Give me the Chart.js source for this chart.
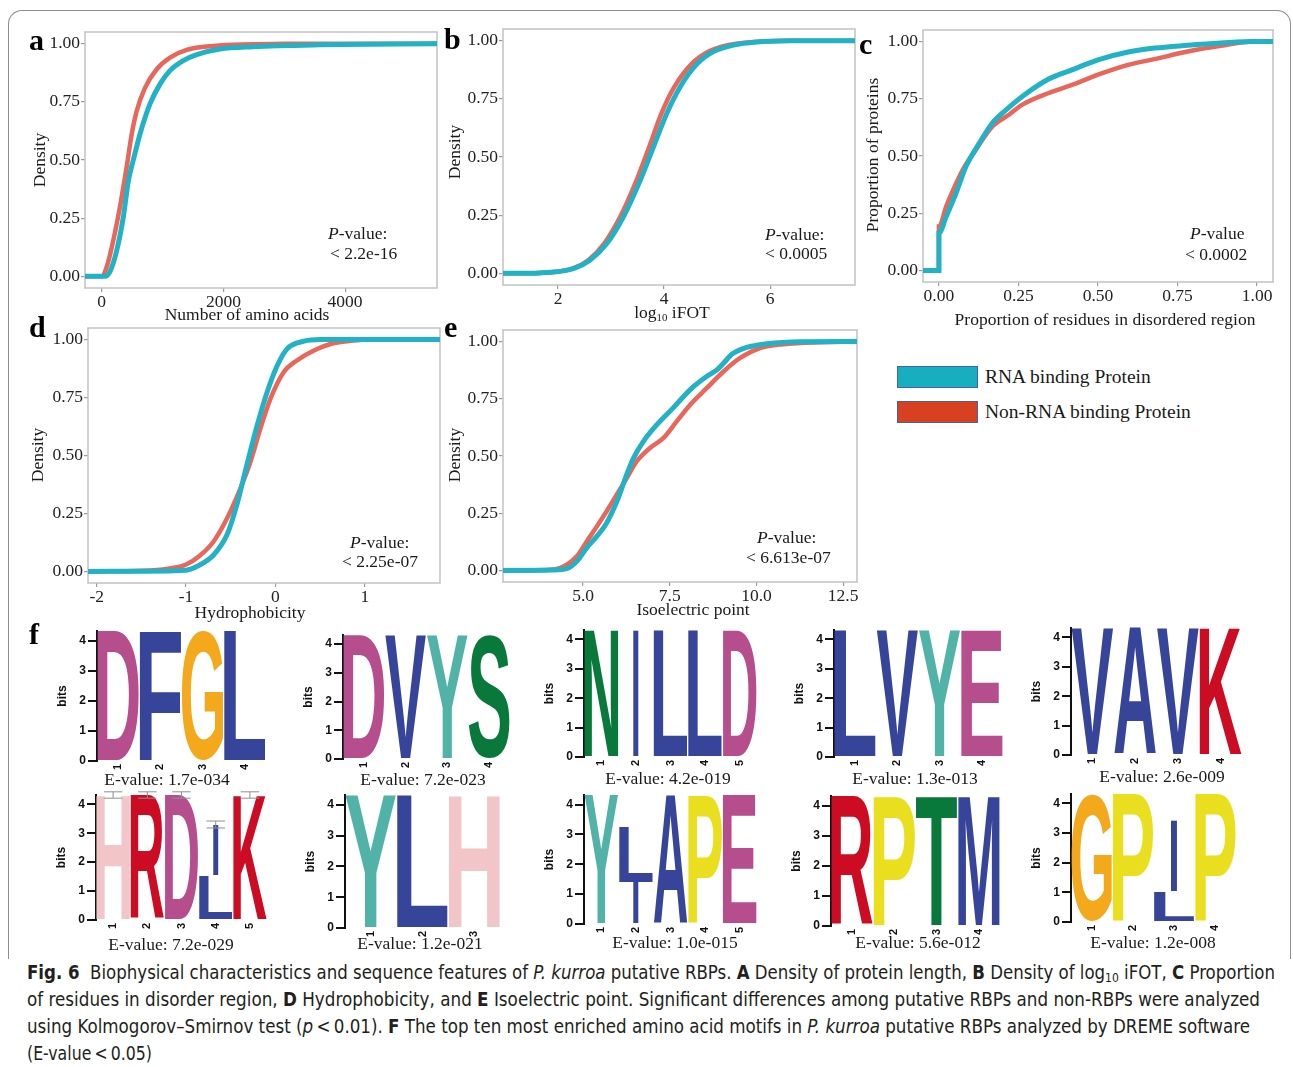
<!DOCTYPE html>
<html>
<head>
<meta charset="utf-8">
<title>Fig. 6</title>
<script src="https://cdn.jsdelivr.net/npm/chart.js@4.4.1/dist/chart.umd.min.js"></script>
<style>
  html, body { margin:0; padding:0; background:#fff; }
  body { width:1293px; height:1067px; position:relative; overflow:hidden; }
  canvas { position:absolute; }
  .t { position:absolute; white-space:nowrap; font-family:"Liberation Serif","Times New Roman",serif; color:#1a1a1a; line-height:1.1; }
  #frame { position:absolute; left:8px; top:10px; width:1281px; height:948px; border:1px solid #8e8e8e; border-bottom:none; border-radius:14px 14px 0 0; }
  .cap { position:absolute; left:27px; white-space:nowrap; font-family:"Liberation Sans Narrow","DejaVu Sans Condensed","Liberation Sans",sans-serif; font-size:20px; color:#231f20; transform-origin:0 50%; line-height:1.1; }
  .cap sub { font-size:0.65em; vertical-align:-0.2em; line-height:0; }
  .legbox { position:absolute; width:79px; height:20px; border:1px solid #3e64b0; }
</style>
</head>
<body>
<div id="frame"></div>
<script>
// ===================== DATA =====================
// Panel a: Number of amino acids (ECDF)
const aTicks = [0, 2000, 4000];
const aRbpX = [-274, 54, 136, 246, 356, 438, 520, 630, 794, 958, 1122, 1341, 1561, 1944, 2487, 3580, 5510];
const aRbpY = [0, 0, 0.02, 0.11, 0.255, 0.41, 0.50, 0.612, 0.741, 0.826, 0.884, 0.927, 0.953, 0.977, 0.987, 0.995, 1];
const aNonX = [-274, 0, 82, 191, 301, 411, 493, 575, 712, 904, 1122, 1397, 1835, 2487, 3000, 5510];
const aNonY = [0, 0, 0.04, 0.155, 0.30, 0.47, 0.61, 0.71, 0.81, 0.89, 0.94, 0.973, 0.99, 0.997, 1, 1];

// Panel b: log10 iFOT
const bTicks = [2, 4, 6];
const bRbpX = [0.96, 1.66, 2.29, 2.60, 2.92, 3.23, 3.55, 3.80, 4.05, 4.30, 4.62, 4.93, 5.31, 5.75, 6.38, 7.60];
const bRbpY = [0, 0.002, 0.02, 0.056, 0.128, 0.242, 0.40, 0.544, 0.687, 0.80, 0.90, 0.953, 0.981, 0.994, 0.999, 1];
const bNonX = [0.96, 1.66, 2.27, 2.57, 2.87, 3.17, 3.48, 3.72, 3.95, 4.19, 4.52, 4.84, 5.22, 5.70, 6.30, 7.60];
const bNonY = [0, 0.002, 0.02, 0.056, 0.128, 0.242, 0.40, 0.544, 0.687, 0.80, 0.90, 0.953, 0.981, 0.994, 0.999, 1];

// Panel c: proportion of residues in disordered region
const cTicks = [0, 0.25, 0.5, 0.75, 1];
const cRbpX = [-0.05, 0, 0, 0.023, 0.054, 0.085, 0.127, 0.168, 0.21, 0.262, 0.345, 0.418, 0.50, 0.595, 0.678, 0.782, 0.886, 0.99, 1.05];
const cRbpY = [0, 0, 0.163, 0.236, 0.338, 0.454, 0.556, 0.644, 0.70, 0.76, 0.836, 0.876, 0.92, 0.954, 0.971, 0.983, 0.993, 1, 1];
const cNonX = [-0.05, 0, 0, 0.023, 0.054, 0.075, 0.116, 0.168, 0.22, 0.262, 0.345, 0.418, 0.50, 0.595, 0.678, 0.782, 0.886, 0.99, 1.05];
const cNonY = [0, 0, 0.192, 0.28, 0.38, 0.44, 0.527, 0.629, 0.68, 0.724, 0.775, 0.81, 0.855, 0.898, 0.923, 0.956, 0.981, 1, 1];

// Panel d: Hydrophobicity
const dTicks = [-2, -1, 0, 1];
const dRbpX = [-2.1, -1.5, -1.0, -0.876, -0.69, -0.54, -0.43, -0.32, -0.205, -0.093, 0.02, 0.13, 0.32, 0.5, 1.84];
const dRbpY = [0, 0.001, 0.005, 0.022, 0.072, 0.16, 0.29, 0.46, 0.63, 0.774, 0.888, 0.96, 0.993, 1, 1];
const dNonX = [-2.1, -1.5, -1.2, -1.0, -0.84, -0.69, -0.54, -0.39, -0.28, -0.168, -0.056, 0.093, 0.24, 0.43, 0.615, 0.876, 1.07, 1.84];
const dNonY = [0, 0.003, 0.012, 0.03, 0.07, 0.13, 0.23, 0.36, 0.473, 0.617, 0.745, 0.86, 0.91, 0.953, 0.981, 0.996, 1, 1];

// Panel e: Isoelectric point
const eTicks = [5, 7.5, 10, 12.5];
const eRbpX = [2.69, 4.14, 4.53, 4.82, 5.11, 5.40, 5.68, 5.97, 6.26, 6.45, 6.74, 7.13, 7.6, 8.09, 8.57, 8.86, 9.05, 9.3, 9.72, 10.3, 11.26, 12.9];
const eRbpY = [0, 0.002, 0.008, 0.04, 0.1, 0.15, 0.208, 0.30, 0.42, 0.49, 0.564, 0.637, 0.71, 0.79, 0.848, 0.876, 0.905, 0.945, 0.974, 0.99, 0.999, 1];
const eNonX = [2.69, 4.14, 4.53, 4.82, 5.11, 5.40, 5.68, 5.97, 6.26, 6.55, 6.93, 7.32, 7.70, 8.09, 8.57, 9.05, 9.53, 10.1, 10.78, 11.9, 12.9];
const eNonY = [0, 0.005, 0.026, 0.062, 0.128, 0.193, 0.259, 0.331, 0.404, 0.477, 0.535, 0.579, 0.651, 0.724, 0.797, 0.869, 0.928, 0.971, 0.988, 0.997, 1];

const yTicks = [0, 0.25, 0.5, 0.75, 1];
const seriesNames = ['RNA binding Protein', 'Non-RNA binding Protein'];

// Panel f: DREME motifs (letters stacked bottom -> top, heights in bits)
const m1Letters = [['D'], ['F'], ['G'], ['L']];
const m1Bits = [[4.32], [4.32], [4.32], [4.32]];
const m2Letters = [['D'], ['V'], ['Y'], ['S']];
const m2Bits = [[4.32], [4.32], [4.32], [4.32]];
const m3Letters = [['N'], ['I'], ['L'], ['L'], ['D']];
const m3Bits = [[4.32], [4.32], [4.32], [4.32], [4.32]];
const m4Letters = [['L'], ['V'], ['Y'], ['E']];
const m4Bits = [[4.32], [4.32], [4.32], [4.32]];
const m5Letters = [['V'], ['A'], ['V'], ['K']];
const m5Bits = [[4.32], [4.32], [4.32], [4.32]];
const m6Letters = [['H'], ['R'], ['D'], ['L', 'I'], ['K']];
const m6Bits = [[4.32], [4.32], [4.32], [1.55, 1.75], [4.32]];
const m6Err = [0.11, 0.11, 0.11, 0.12, 0.11];
const m7Letters = [['Y'], ['L'], ['H']];
const m7Bits = [[4.32], [4.32], [4.32]];
const m8Letters = [['Y'], ['I', 'L'], ['A'], ['P'], ['E']];
const m8Bits = [[4.32], [1.42, 1.86], [4.32], [4.32], [4.32]];
const m9Letters = [['R'], ['P'], ['T'], ['M']];
const m9Bits = [[4.32], [4.32], [4.32], [4.32]];
const m10Letters = [['G'], ['P'], ['L', 'I'], ['P']];
const m10Bits = [[4.32], [4.32], [1.04, 2.38], [4.32]];
const eValues = ['E-value: 1.7e-034', 'E-value: 7.2e-023', 'E-value: 4.2e-019', 'E-value: 1.3e-013', 'E-value: 2.6e-009',
                 'E-value: 7.2e-029', 'E-value: 1.2e-021', 'E-value: 1.0e-015', 'E-value: 5.6e-012', 'E-value: 1.2e-008'];

// ===================== STYLE =====================
const TEAL = '#22B2C6', RED = '#E8665A';
const SERIF = '"Liberation Serif","Times New Roman",serif';
const SANS = '"Liberation Sans",Arial,Helvetica,sans-serif';
const FS = 17.5;
const AA_COLORS = {
  A:'#36449A', C:'#36449A', F:'#36449A', I:'#36449A', L:'#36449A', M:'#36449A', V:'#36449A', W:'#36449A',
  N:'#08793A', Q:'#08793A', S:'#08793A', T:'#08793A',
  D:'#B64D8D', E:'#B64D8D', K:'#CC0C22', R:'#CC0C22', H:'#F2C6C8', G:'#F4A81C', P:'#E9DF1E', Y:'#51B2A8'
};

// ===================== HELPERS =====================
function addText(html, x, y, o = {}) {
  const d = document.createElement('div');
  d.className = 't';
  d.innerHTML = html;
  d.style.fontSize = (o.size || FS) + 'px';
  if (o.bold) d.style.fontWeight = 'bold';
  if (o.family) d.style.fontFamily = o.family;
  if (o.color) d.style.color = o.color;
  d.style.left = x + 'px';
  d.style.top = y + 'px';
  const a = o.anchor || 'center';
  const tx = a === 'center' ? '-50%' : (a === 'right' ? '-100%' : '0');
  d.style.transform = o.rotate ? `translate(-50%,-50%) rotate(${o.rotate}deg)` : `translate(${tx},-50%)`;
  document.body.appendChild(d);
  return d;
}
function makeCanvas(left, top, w, h) {
  const c = document.createElement('canvas');
  c.width = Math.round(w); c.height = Math.round(h);
  c.style.left = Math.round(left) + 'px'; c.style.top = Math.round(top) + 'px';
  c.style.width = Math.round(w) + 'px'; c.style.height = Math.round(h) + 'px';
  document.body.appendChild(c);
  return c;
}
const pts = (xs, ys) => xs.map((x, i) => ({ x, y: ys[i] }));

const framePlugin = {
  id: 'frameBox',
  beforeDatasetsDraw(chart) {
    const { ctx, chartArea: a } = chart;
    ctx.save();
    ctx.strokeStyle = '#c2c2c2';
    ctx.lineWidth = 1.5;
    ctx.strokeRect(a.left, a.top, a.right - a.left, a.bottom - a.top);
    ctx.restore();
  }
};

const Y_AX_W = 62, X_AX_H = 26, PAD_T = 12, PAD_R = 8;
function cdfChart(area, xMin, xMax, xTicks, xFmt, rbpX, rbpY, nonX, nonY) {
  const w = Y_AX_W + (area.r - area.l) + PAD_R;
  const h = PAD_T + (area.b - area.t) + X_AX_H;
  const cv = makeCanvas(area.l - Y_AX_W, area.t - PAD_T, w, h);
  const tickFont = { family: SERIF, size: FS };
  return new Chart(cv, {
    type: 'line',
    data: {
      datasets: [
        { label: seriesNames[0], data: pts(rbpX, rbpY), borderColor: TEAL, borderWidth: 5, pointRadius: 0, fill: false, cubicInterpolationMode: 'monotone' },
        { label: seriesNames[1], data: pts(nonX, nonY), borderColor: RED, borderWidth: 4.5, pointRadius: 0, fill: false, cubicInterpolationMode: 'monotone' }
      ]
    },
    options: {
      responsive: false, animation: false, maintainAspectRatio: false,
      layout: { padding: { top: PAD_T, right: PAD_R, left: 0, bottom: 0 } },
      plugins: { legend: { display: false }, tooltip: { enabled: false } },
      scales: {
        x: {
          type: 'linear', min: xMin, max: xMax,
          afterBuildTicks: s => { s.ticks = xTicks.map(v => ({ value: v })); },
          afterFit: s => { s.height = X_AX_H; },
          ticks: { callback: v => xFmt(v), font: tickFont, color: '#222', padding: 0, maxRotation: 0, autoSkip: false },
          grid: { display: true, drawOnChartArea: false, drawTicks: true, tickLength: 4, color: '#9a9a9a', lineWidth: 1.2 },
          border: { display: false }
        },
        y: {
          type: 'linear', min: -0.05, max: 1.05,
          afterBuildTicks: s => { s.ticks = yTicks.map(v => ({ value: v })); },
          afterFit: s => { s.width = Y_AX_W; },
          ticks: { callback: v => Number(v).toFixed(2), font: tickFont, color: '#222', padding: 1 },
          grid: { display: true, drawOnChartArea: false, drawTicks: true, tickLength: 4, color: '#9a9a9a', lineWidth: 1.2 },
          border: { display: false }
        }
      }
    },
    plugins: [framePlugin]
  });
}

// Letter glyph filling a rectangle (sequence logo)
function drawGlyph(ctx, ch, x, y, w, h, color) {
  if (w <= 0 || h <= 0) return;
  ctx.save();
  ctx.font = 'bold 200px ' + SANS;
  ctx.textAlign = 'left';
  ctx.textBaseline = 'alphabetic';
  const m = ctx.measureText(ch);
  const bw = m.actualBoundingBoxLeft + m.actualBoundingBoxRight;
  const bh = m.actualBoundingBoxAscent + m.actualBoundingBoxDescent;
  ctx.translate(x, y);
  ctx.scale(w / bw, h / bh);
  ctx.fillStyle = color;
  ctx.fillText(ch, m.actualBoundingBoxLeft, m.actualBoundingBoxAscent);
  ctx.restore();
}
const logoPlugin = {
  id: 'logoLetters',
  afterDatasetsDraw(chart, args, opts) {
    const ctx = chart.ctx;
    const tops = [];
    chart.data.datasets.forEach((ds, di) => {
      const meta = chart.getDatasetMeta(di);
      meta.data.forEach((bar, i) => {
        const ch = ds.letters[i];
        if (!ch) return;
        const p = bar.getProps(['x', 'y', 'base', 'width'], true);
        let w = p.width - 1, x0 = p.x - p.width / 2 + 0.5;
        if (ch === 'I') { w = p.width * 0.15; x0 = p.x - w / 2; }
        drawGlyph(ctx, ch, x0, p.y, w, p.base - p.y, AA_COLORS[ch] || '#000');
        if (tops[i] === undefined || p.y < tops[i].y) tops[i] = { y: p.y, x: p.x, w: p.width };
      });
    });
    if (opts && opts.err) {
      const ys = chart.scales.y;
      ctx.save();
      ctx.strokeStyle = '#8f8f8f';
      ctx.lineWidth = 1;
      opts.err.forEach((e, i) => {
        const t = tops[i];
        if (!t || !e) return;
        const v = ys.getValueForPixel(t.y);
        const y1 = ys.getPixelForValue(v + e), y2 = ys.getPixelForValue(v - e);
        const hw = t.w * 0.27;
        ctx.beginPath();
        ctx.moveTo(t.x, y1); ctx.lineTo(t.x, y2);
        ctx.moveTo(t.x - hw, y1); ctx.lineTo(t.x + hw, y1);
        ctx.moveTo(t.x - hw, y2); ctx.lineTo(t.x + hw, y2);
        ctx.stroke();
      });
      ctx.restore();
    }
  }
};
const BITS_MAX = 4.32;
function logoChart(pos, letters, bits, err) {
  const LW = 44, PT = 10, XH = 20, PR = 4;
  const plotW = pos.r - pos.ax;
  const plotH = BITS_MAX * pos.bit;
  const cv = makeCanvas(pos.ax - LW, pos.y0 - plotH - PT, LW + plotW + PR, PT + plotH + XH);
  const depth = Math.max(...letters.map(l => l.length));
  const datasets = [];
  for (let k = 0; k < depth; k++) {
    datasets.push({
      data: bits.map(b => (b[k] === undefined ? null : b[k])),
      letters: letters.map(l => l[k] || null),
      backgroundColor: 'rgba(0,0,0,0)', borderWidth: 0, barPercentage: 1, categoryPercentage: 1
    });
  }
  return new Chart(cv, {
    type: 'bar',
    data: { labels: letters.map((_, i) => String(i + 1)), datasets },
    options: {
      responsive: false, animation: false, maintainAspectRatio: false,
      layout: { padding: { top: PT, right: PR, left: 0, bottom: 0 } },
      plugins: { legend: { display: false }, tooltip: { enabled: false }, logoLetters: { err: err || null } },
      scales: {
        x: {
          stacked: true, offset: true,
          afterFit: s => { s.height = XH; },
          grid: { display: false, drawTicks: false },
          border: { display: false },
          ticks: { font: { family: SANS, size: 11, weight: 'bold' }, color: '#111', maxRotation: 90, minRotation: 90, padding: 3, autoSkip: false }
        },
        y: {
          stacked: true, min: 0, max: BITS_MAX,
          afterBuildTicks: s => { s.ticks = [0, 1, 2, 3, 4].map(v => ({ value: v })); },
          afterFit: s => { s.width = LW; },
          grid: { display: true, drawOnChartArea: false, drawTicks: true, tickLength: 9, color: '#111', lineWidth: 2 },
          border: { display: true, color: '#111', width: 2 },
          ticks: { font: { family: SANS, size: 12, weight: 'bold' }, color: '#111', padding: 2 },
          title: { display: true, text: 'bits', font: { family: SANS, size: 12, weight: 'bold' }, color: '#111', padding: { top: 2, bottom: 0 } }
        }
      }
    },
    plugins: [logoPlugin]
  });
}

// ===================== PANELS a–e =====================
const fmt0 = v => String(v);
const fmt1 = v => Number(v).toFixed(1);
const fmt2 = v => Number(v).toFixed(2);

cdfChart({ l: 85, t: 32, r: 437, b: 288 }, -274, 5510, aTicks, fmt0, aRbpX, aRbpY, aNonX, aNonY);
cdfChart({ l: 503, t: 29, r: 855, b: 285 }, 0.962, 7.6, bTicks, fmt0, bRbpX, bRbpY, bNonX, bNonY);
cdfChart({ l: 923, t: 30, r: 1273, b: 282 }, -0.05, 1.05, cTicks, fmt2, cRbpX, cRbpY, cNonX, cNonY);
cdfChart({ l: 88, t: 328, r: 440, b: 583 }, -2.097, 1.84, dTicks, fmt0, dRbpX, dRbpY, dNonX, dNonY);
cdfChart({ l: 503, t: 330, r: 857, b: 582 }, 2.69, 12.9, eTicks, fmt1, eRbpX, eRbpY, eNonX, eNonY);

// Panel letters
[['a', 29, 39], ['b', 444, 38], ['c', 859, 43], ['d', 29, 326], ['e', 444, 326], ['f', 29, 633]].forEach(([s, x, y]) =>
  addText(s, x, y, { size: 30, bold: true, anchor: 'left', color: '#000' }));

// Axis titles
addText('Density', 40, 160, { rotate: -90 });
addText('Number of amino acids', 247, 315);
addText('Density', 455, 152, { rotate: -90 });
addText('log<sub style="font-size:0.62em;vertical-align:-0.25em;line-height:0">10</sub> iFOT', 672, 313);
addText('Proportion of proteins', 873, 155, { rotate: -90 });
addText('Proportion of residues in disordered region', 1105, 320);
addText('Density', 38, 455, { rotate: -90 });
addText('Hydrophobicity', 250, 613);
addText('Density', 455, 455, { rotate: -90 });
addText('Isoelectric point', 693, 610);

// P-value annotations
[[328, 234, 330, 254, '<i>P</i>-value:', '&lt; 2.2e-16'],
 [765, 235, 765, 254, '<i>P</i>-value:', '&lt; 0.0005'],
 [1190, 234, 1185, 255, '<i>P</i>-value', '&lt; 0.0002'],
 [350, 543, 342, 562, '<i>P</i>-value:', '&lt; 2.25e-07'],
 [757, 538, 746, 558, '<i>P</i>-value:', '&lt; 6.613e-07']].forEach(([x1, y1, x2, y2, l1, l2]) => {
  addText(l1, x1, y1, { anchor: 'left' });
  addText(l2, x2, y2, { anchor: 'left' });
});

// Legend
function legendItem(y, color, label) {
  const b = document.createElement('div');
  b.className = 'legbox';
  b.style.left = '897px'; b.style.top = y + 'px'; b.style.background = color;
  document.body.appendChild(b);
  addText(label, 985, y + 11, { anchor: 'left', size: 19.5 });
}
legendItem(366, '#17AEBF', seriesNames[0]);
legendItem(401, '#D8411F', seriesNames[1]);

// ===================== PANEL f (logos) =====================
logoChart({ ax: 97, r: 266, y0: 761, bit: 30 }, m1Letters, m1Bits);
logoChart({ ax: 343, r: 510, y0: 759, bit: 28.8 }, m2Letters, m2Bits);
logoChart({ ax: 584, r: 757, y0: 757.5, bit: 29.4 }, m3Letters, m3Bits);
logoChart({ ax: 834, r: 1003, y0: 757, bit: 29.5 }, m4Letters, m4Bits);
logoChart({ ax: 1071, r: 1242, y0: 755.5, bit: 29.4 }, m5Letters, m5Bits);
logoChart({ ax: 96, r: 267, y0: 920, bit: 29 }, m6Letters, m6Bits, m6Err);
logoChart({ ax: 345, r: 500, y0: 928, bit: 30.8 }, m7Letters, m7Bits);
logoChart({ ax: 584, r: 757, y0: 924, bit: 29.8 }, m8Letters, m8Bits);
logoChart({ ax: 831, r: 1000, y0: 926, bit: 30 }, m9Letters, m9Bits);
logoChart({ ax: 1071, r: 1236, y0: 922, bit: 29.7 }, m10Letters, m10Bits);

[[167, 780], [423, 780], [668, 779], [915, 779], [1162, 777],
 [171, 945], [420, 944], [675, 943], [918, 943], [1153, 943]].forEach(([x, y], i) => addText(eValues[i], x, y));

// ===================== CAPTION =====================
const capLines = [
  ['<b>Fig. 6</b>&nbsp; Biophysical characteristics and sequence features of <i>P. kurroa</i> putative RBPs. <b>A</b> Density of protein length, <b>B</b> Density of log<sub>10</sub> iFOT, <b>C</b> Proportion', 972, 1248],
  ['of residues in disorder region, <b>D</b> Hydrophobicity, and <b>E</b> Isoelectric point. Significant differences among putative RBPs and non-RBPs were analyzed', 999, 1233],
  ['using Kolmogorov–Smirnov test (<i>p</i>&thinsp;&lt;&thinsp;0.01). <b>F</b> The top ten most enriched amino acid motifs in <i>P. kurroa</i> putative RBPs analyzed by DREME software', 1026, 1223],
  ['(E-value&thinsp;&lt;&thinsp;0.05)', 1053, 125]
];
capLines.forEach(([html, y, target]) => {
  const d = document.createElement('div');
  d.className = 'cap';
  d.innerHTML = html;
  d.style.top = y + 'px';
  document.body.appendChild(d);
  const w = d.getBoundingClientRect().width;
  d.style.transform = `translateY(-50%) scaleX(${(target / w).toFixed(4)})`;
});
</script>
</body>
</html>
